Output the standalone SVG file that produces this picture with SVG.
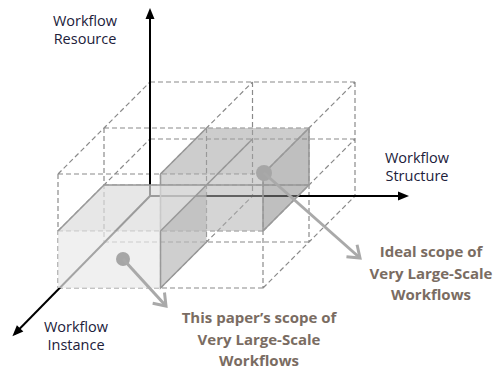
<svg xmlns="http://www.w3.org/2000/svg" width="501" height="372" viewBox="0 0 501 372">
<style>
.grid{fill:none;stroke:#8a8a8a;stroke-width:1.2;stroke-dasharray:5 3}
.edge{fill:none;stroke:#999999;stroke-width:1.5}
.axis{fill:none;stroke:#000;stroke-width:2}
.pointer{fill:none;stroke:#a9a9a9;stroke-width:3}
.dot{fill:#a6a6a6}
.lbl{font-family:"Open Sans","DejaVu Sans",sans-serif;font-size:14.5px;fill:#20203a;text-anchor:middle}
.scope{font-family:"Open Sans","DejaVu Sans",sans-serif;font-size:15px;font-weight:bold;fill:#7a6c62;text-anchor:middle}
</style>
<defs>
<marker id="tri" markerUnits="userSpaceOnUse" markerWidth="14" markerHeight="12" refX="0" refY="0" orient="auto" overflow="visible" viewBox="-10 -6 14 12">
<path d="M-8,-4.5L3,0L-8,4.5Z" fill="#000"/>
</marker>
<marker id="chev" markerUnits="userSpaceOnUse" markerWidth="20" markerHeight="20" refX="0" refY="0" orient="auto" overflow="visible" viewBox="-15 -10 20 20">
<path d="M-11,-8L0,0L-11,8" fill="none" stroke="#a9a9a9" stroke-width="3" stroke-linejoin="miter"/>
</marker>
</defs>

<g id="grid">
<path class="grid" d="M58,288H263M58,231H263M58,174H263M104,242H309M104,185H309M104,128H309M150,196H355M150,139H355M150,82H355M58,174V288M160.5,174V288M263,174V288M104,128V242M206.5,128V242M309,128V242M150,82V196M252.5,82V196M355,82V196M58,174l92,-92M58,231l92,-92M160.5,174l92,-92M160.5,231l92,-92M160.5,288l92,-92M263,174l92,-92M263,231l92,-92M263,288l92,-92"/>
</g>

<g id="connectors">
<path id="axis-resource" class="axis" d="M150,196V11" marker-end="url(#tri)"/>
<path id="axis-structure" class="axis" d="M150,196H406" marker-end="url(#tri)"/>
<path id="axis-instance" class="axis" d="M150,196L14.5,334" marker-end="url(#tri)"/>
</g>

<g id="ideal-scope-box">
<path d="M160.5,174H263V231H160.5Z" fill="#b2b2b2" fill-opacity="0.55"/>
<path d="M160.5,174L206.5,128H309L263,174Z" fill="#a4a4a4" fill-opacity="0.55"/>
<path d="M263,174L309,128V185L263,231Z" fill="#8a8a8a" fill-opacity="0.55"/>
<path class="edge" d="M160.5,174L206.5,128M263,174L309,128V185L263,231M160.5,174V231M263,174V231M206.5,185H309M206.5,185L252.5,139"/>
</g>

<g id="paper-scope-box">
<path d="M58,231H160.5V288H58Z" fill="#eaeaea" fill-opacity="0.7"/>
<path d="M58,231L104,185H206.5L160.5,231Z" fill="#dddddd" fill-opacity="0.7"/>
<path d="M160.5,231L206.5,185V242L160.5,288Z" fill="#bababa" fill-opacity="0.7"/>
<path class="edge" d="M58,231L104,185H206.5M160.5,231L206.5,185M160.5,231V288L206.5,242"/>
</g>

<g id="pointers">
<circle class="dot" cx="264" cy="173" r="8"/>
<path class="pointer" d="M264,173L360,258" marker-end="url(#chev)"/>
<circle class="dot" cx="123" cy="259" r="7"/>
<path class="pointer" d="M123,259L166,306" marker-end="url(#chev)"/>
</g>

<g id="label-resource">
<text class="lbl" x="85" y="26">Workflow</text>
<text class="lbl" x="85" y="44">Resource</text>
</g>
<g id="label-structure">
<text class="lbl" x="417" y="163">Workflow</text>
<text class="lbl" x="417" y="181">Structure</text>
</g>
<g id="label-instance">
<text class="lbl" x="76" y="332">Workflow</text>
<text class="lbl" x="76" y="350">Instance</text>
</g>
<g id="label-ideal">
<text class="scope" x="431" y="257">Ideal scope of</text>
<text class="scope" x="431" y="279">Very Large-Scale</text>
<text class="scope" x="431" y="300">Workflows</text>
</g>
<g id="label-paper">
<text class="scope" x="259" y="323">This paper’s scope of</text>
<text class="scope" x="259" y="345">Very Large-Scale</text>
<text class="scope" x="259" y="366">Workflows</text>
</g>
</svg>
